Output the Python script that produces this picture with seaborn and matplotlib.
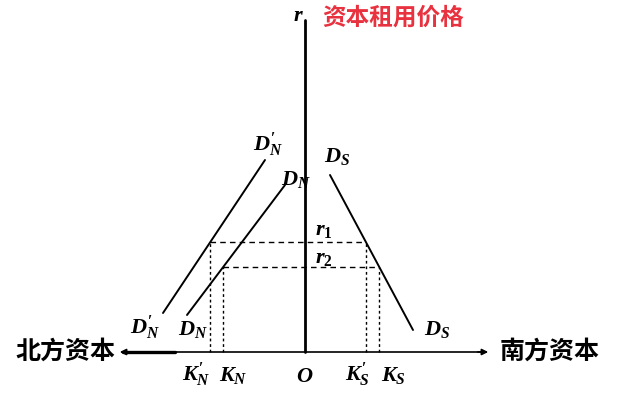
import numpy as np
import pandas as pd
import seaborn as sns
import matplotlib
matplotlib.use("Agg")
import matplotlib.pyplot as plt

sns.set_theme(style="white")
plt.rcParams['font.family'] = ['Noto Sans CJK SC', 'DejaVu Sans']
plt.rcParams['mathtext.fontset'] = 'custom'
plt.rcParams['mathtext.it'] = 'Liberation Serif:italic:bold'
plt.rcParams['mathtext.rm'] = 'Liberation Serif:bold'

# ---- data (schematic units: capital on x, origin O at 0; rental price r on y)
curve_names = ["DN_prime", "DN", "DS"]
dn_prime_k = [-142, -40]
dn_prime_r = [39, 192]
dn_k = [-118, -20]
dn_r = [37, 167]
ds_k = [25, 108]
ds_r = [177, 22]
r1 = 110
r2 = 85
axis_labels = ["北方资本", "南方资本", "资本租用价格"]
tick_labels = [r"$K_N'$", r"$K_N$", r"$O$", r"$K_S'$", r"$K_S$"]

df = pd.DataFrame({
    "k": dn_prime_k + dn_k + ds_k,
    "r": dn_prime_r + dn_r + ds_r,
    "curve": [curve_names[0]] * 2 + [curve_names[1]] * 2 + [curve_names[2]] * 2,
})

def k_at(ks, rs, r):
    order = np.argsort(rs)
    return float(np.interp(r, np.array(rs)[order], np.array(ks)[order]))

kn_p = k_at(dn_prime_k, dn_prime_r, r1)
kn = k_at(dn_k, dn_r, r2)
ks_p = k_at(ds_k, ds_r, r1)
ks = k_at(ds_k, ds_r, r2)

fig = plt.figure(figsize=(6.24, 4.12), dpi=100)
ax = fig.add_axes([0, 0, 1, 1])
ax.set_xlim(-305, 319)
ax.set_ylim(-60, 352)
ax.axis('off')

sns.lineplot(data=df, x="k", y="r", units="curve", estimator=None,
             color="black", lw=1.4, ax=ax, legend=False, sort=False)

# axes
ax.plot([0, 0], [0, 332], color="black", lw=2.0)
ax.plot([-178, 178], [0, 0], color="black", lw=1.2)
ax.plot([-182, -130], [0, 0], color="black", lw=2.4)
ax.annotate("", xy=(186, 0), xytext=(170, 0),
            arrowprops=dict(arrowstyle="-|>", color="black", lw=1.2, mutation_scale=9))
ax.annotate("", xy=(-188, 0), xytext=(-172, 0),
            arrowprops=dict(arrowstyle="-|>", color="black", lw=1.2, mutation_scale=9))

# dashed guides
dash = dict(color="black", lw=1.0, ls=(0, (4, 3)))
ax.plot([kn_p, ks_p], [r1, r1], **dash)
ax.plot([kn, ks], [r2, r2], **dash)
dot = dict(color="black", lw=1.0, ls=(0, (2, 2)))
for kx, ry in [(kn_p, r1), (kn, r2), (ks_p, r1), (ks, r2)]:
    ax.plot([kx, kx], [0, ry], **dot)

# labels
lab = dict(fontsize=16, color="black", ha="center", va="center")
ax.text(-7, 338, r"$r$", **lab)
ax.text(17, 334, axis_labels[2], fontsize=17, color="#e8323f", ha="left",
        va="center", fontweight="bold")
ax.text(-37, 207, r"$D_N'$", **lab)
ax.text(-9, 174, r"$D_N$", **lab)
ax.text(32, 197, r"$D_S$", **lab)
ax.text(19, 124, r"$r_1$", **lab)
ax.text(19, 96, r"$r_2$", **lab)
ax.text(-160, 24, r"$D_N'$", **lab)
ax.text(-112, 24, r"$D_N$", **lab)
ax.text(132, 24, r"$D_S$", **lab)

tick_x = [kn_p - 14, kn + 10, 0, ks_p - 8, ks + 14]
for tx, tl in zip(tick_x, tick_labels):
    ax.text(tx, -23, tl, **lab)

ax.text(-190, 0, axis_labels[0], fontsize=18, color="black", ha="right",
        va="center", fontweight="bold")
ax.text(195, 0, axis_labels[1], fontsize=18, color="black", ha="left",
        va="center", fontweight="bold")

fig.savefig("out.png", dpi=100, facecolor="white")
